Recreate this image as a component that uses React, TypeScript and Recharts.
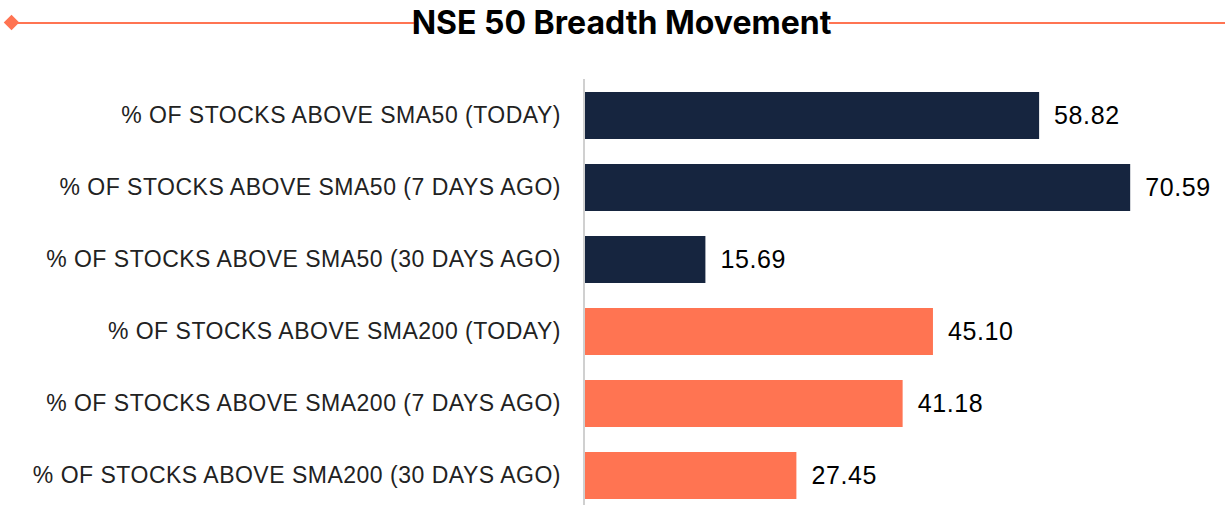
import React from 'react';
import { BarChart, Bar, XAxis, YAxis, Cell, LabelList } from 'recharts';

const categories = [
  '% OF STOCKS ABOVE SMA50 (TODAY)',
  '% OF STOCKS ABOVE SMA50 (7 DAYS AGO)',
  '% OF STOCKS ABOVE SMA50 (30 DAYS AGO)',
  '% OF STOCKS ABOVE SMA200 (TODAY)',
  '% OF STOCKS ABOVE SMA200 (7 DAYS AGO)',
  '% OF STOCKS ABOVE SMA200 (30 DAYS AGO)',
];
const values = [58.82, 70.59, 15.69, 45.1, 41.18, 27.45];
const groups = ['sma50', 'sma50', 'sma50', 'sma200', 'sma200', 'sma200'];

const groupColors: { [key: string]: string } = {
  sma50: '#16253f',
  sma200: '#ff7452',
};

const data = categories.map((name, i) => ({ name, value: values[i], group: groups[i] }));

const ORANGE = '#ff7452';

const App = () => {
  return (
    <div style={{ position: 'absolute', top: 0, left: 0, width: 1225, height: 505, overflow: 'hidden', background: '#fff' }}>
      {/* title with rule lines */}
      <div style={{ position: 'absolute', top: 22, left: 12, width: 402, height: 2, background: ORANGE }} />
      <div style={{ position: 'absolute', top: 22, left: 829, width: 396, height: 2, background: ORANGE }} />
      <div
        style={{
          position: 'absolute',
          top: 17,
          left: 6,
          width: 11,
          height: 11,
          background: ORANGE,
          transform: 'rotate(45deg)',
        }}
      />
      <div
        style={{
          position: 'absolute',
          top: 2,
          left: 373,
          width: 497,
          textAlign: 'center',
          fontFamily: 'Inter, sans-serif',
          fontWeight: 700,
          fontSize: 32,
          color: '#000',
          lineHeight: '42px',
        }}
      >
        NSE 50 Breadth Movement
      </div>

      <div style={{ position: 'absolute', top: 0, left: 0 }}>
        <BarChart
          width={1225}
          height={520}
          data={data}
          layout="vertical"
          margin={{ top: 79, right: 22, left: 0, bottom: 9 }}
        >
          <XAxis type="number" domain={[0, 80]} hide />
          <YAxis
            type="category"
            dataKey="name"
            width={584}
            tickLine={false}
            tickSize={0}
            tickMargin={23}
            axisLine={{ stroke: '#d0d0d0', strokeWidth: 2 }}
            tick={{ fill: '#222', fontSize: 23, letterSpacing: 0.5, fontFamily: '"Liberation Sans", Arial, sans-serif' }}
            interval={0}
          />
          <Bar dataKey="value" barSize={47} isAnimationActive={false}>
            {data.map((d, i) => (
              <Cell key={`cell-${i}`} fill={groupColors[d.group]} />
            ))}
            <LabelList
              dataKey="value"
              position="right"
              offset={15}
              formatter={(v: any) => Number(v).toFixed(2)}
              style={{ fill: '#000', fontSize: 25, letterSpacing: 0.6, fontFamily: '"Liberation Sans", Arial, sans-serif' }}
            />
          </Bar>
        </BarChart>
      </div>
    </div>
  );
};

export default App;
